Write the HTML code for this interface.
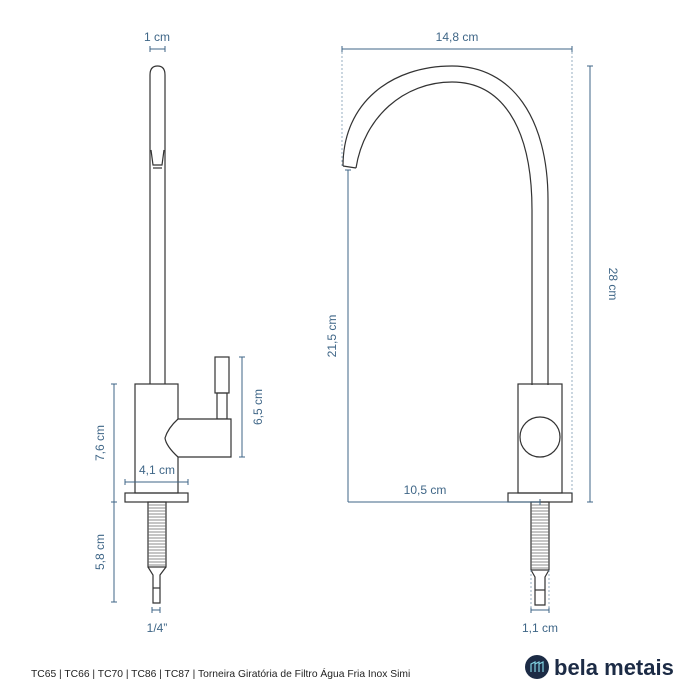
<!DOCTYPE html>
<html><head><meta charset="utf-8"><style>
html,body{margin:0;padding:0;background:#fff;}
svg{display:block}
text{font-family:"Liberation Sans",sans-serif;}
</style></head><body>
<svg width="700" height="700" viewBox="0 0 700 700" xmlns="http://www.w3.org/2000/svg">
<g fill="none" stroke="#333" stroke-width="1.2">
<!-- LEFT faucet -->
<path d="M150,385 L150,75 Q150,66 157.5,66 Q165,66 165,75 L165,385"/>
<path d="M151,150 L153,165 L162,165 L164,150"/>
<line x1="153" y1="168" x2="162" y2="168"/>
<rect x="135" y="384" width="43" height="109" fill="#fff"/>
<rect x="215" y="357" width="14" height="36"/>
<rect x="217" y="393" width="10" height="26"/>
<path d="M178,419 L231,419 L231,457 L178,457 Q166,446 165,438 Q168,428 178,419 Z" fill="#fff"/>
<rect x="125" y="493" width="63" height="9"/>
<rect x="148" y="502" width="18" height="65"/>
<path d="M148,567 L153,575 L153,603 L160,603 L160,575 L166,567"/>
<line x1="153" y1="588" x2="160" y2="588"/>
<!-- RIGHT faucet -->
<path d="M343,166 C343,102 392,66 452,66 C512,66 548,118 548,200 L548,385"/>
<path d="M356,168 C364,117 404,82 452,82 C500,82 532,124 532,210 L532,385"/>
<line x1="343" y1="166" x2="356" y2="168"/>
<rect x="518" y="384" width="44" height="109"/>
<circle cx="540" cy="437" r="20" fill="#fff"/>
<rect x="508" y="493" width="64" height="9"/>
<rect x="531" y="502" width="18" height="68"/>
<path d="M531,570 L535,577 L535,605 L545,605 L545,577 L549,570"/>
<line x1="535" y1="590" x2="545" y2="590"/>
</g>
<!-- threads -->
<g stroke="#666" stroke-width="0.8">
<path d="M148,505h18M148,508h18M148,511h18M148,514h18M148,517h18M148,520h18M148,523h18M148,526h18M148,529h18M148,532h18M148,535h18M148,538h18M148,541h18M148,544h18M148,547h18M148,550h18M148,553h18M148,556h18M148,559h18M148,562h18M148,565h18"/>
<path d="M531,505h18M531,508h18M531,511h18M531,514h18M531,517h18M531,520h18M531,523h18M531,526h18M531,529h18M531,532h18M531,535h18M531,538h18M531,541h18M531,544h18M531,547h18M531,550h18M531,553h18M531,556h18M531,559h18M531,562h18M531,565h18M531,568h18"/>
</g>
<!-- dimensions -->
<g stroke="#3f6687" stroke-width="1" fill="none">
<path d="M150,49h15M150,46v6M165,46v6"/>
<path d="M114,384v218M111,384h6M111,502h6M111,602h6"/>
<path d="M242,357v100M239,357h6M239,457h6"/>
<path d="M125,482h63M125,479v6M188,479v6"/>
<path d="M152,610h8M152,607v6M160,607v6"/>
<path d="M342,49h230M342,46v6M572,46v6"/>
<path d="M590,66v436M587,66h6M587,502h6"/>
<path d="M348,170v332M345,170h6"/>
<path d="M348,502h192M540,499v6"/>
<path d="M531,610h18M531,607v6M549,607v6"/>
</g>
<g stroke="#7d9bb3" stroke-width="0.8" stroke-dasharray="2,2" fill="none">
<path d="M342,52v115M572,52v441M531,570v40M549,570v40"/>
</g>
<g fill="#3f6687" font-size="12" text-anchor="middle">
<text x="157" y="41">1 cm</text>
<text x="157" y="474">4,1 cm</text>
<text x="157" y="632">1/4”</text>
<text x="457" y="41">14,8 cm</text>
<text x="425" y="494">10,5 cm</text>
<text x="540" y="632">1,1 cm</text>
<text transform="translate(104,443) rotate(-90)">7,6 cm</text>
<text transform="translate(104,552) rotate(-90)">5,8 cm</text>
<text transform="translate(262,407) rotate(-90)">6,5 cm</text>
<text transform="translate(336,336) rotate(-90)">21,5 cm</text>
<text transform="translate(609,284) rotate(90)">28 cm</text>
</g>
<text x="31" y="677" font-size="10.3" fill="#222">TC65 | TC66 | TC70 | TC86 | TC87 | Torneira Giratória de Filtro Água Fria Inox Simi</text>
<circle cx="537" cy="667" r="12" fill="#1c2b45"/>
<path d="M531,672v-8l4,-2v10M535,664l4,-2v10M539,664l4,-2v10" stroke="#7fd0e0" stroke-width="1.2" fill="none"/>
<text x="554" y="675" font-size="22" font-weight="bold" fill="#1c2b45">bela metais</text>
</svg>
</body></html>
